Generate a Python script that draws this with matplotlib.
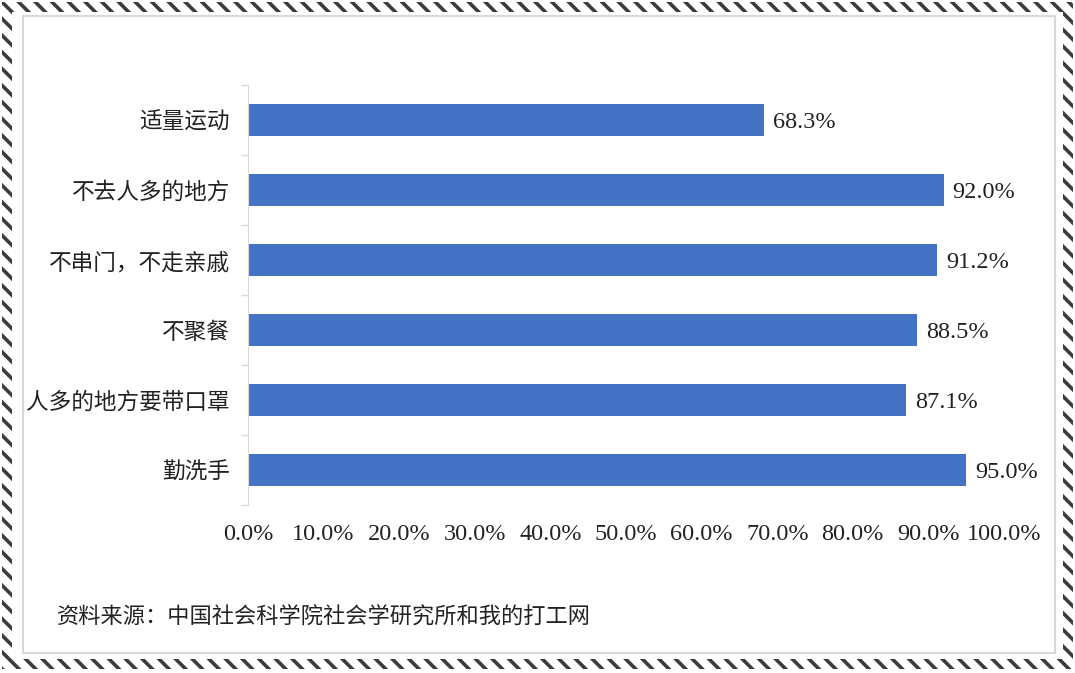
import matplotlib.pyplot as plt
from matplotlib.patches import Rectangle

# data (bottom to top as drawn)
categories = ['勤洗手', '人多的地方要带口罩', '不聚餐', '不串门，不走亲戚', '不去人多的地方', '适量运动']
values = [95.0, 87.1, 88.5, 91.2, 92.0, 68.3]
xticks = [0, 10, 20, 30, 40, 50, 60, 70, 80, 90, 100]
source = '资料来源：中国社会科学院社会学研究所和我的打工网'

plt.rcParams['hatch.linewidth'] = 2.6

W, H = 1075, 673
fig = plt.figure(figsize=(W / 100, H / 100), dpi=100)
fig.patch.set_facecolor('white')

# zebra-ish border bands
def band(x0, y0, x1, y1):
    r = Rectangle((x0 / W, 1 - y1 / H), (x1 - x0) / W, (y1 - y0) / H,
                  transform=fig.transFigure, facecolor='white',
                  edgecolor='#3c3c3c', linewidth=0, hatch='\\\\', zorder=0)
    fig.add_artist(r)

band(2, 2, 1073, 12)      # top
band(2, 659, 1073, 669)   # bottom
band(2, 2, 12, 669)       # left
band(1063, 2, 1073, 669)  # right

# inner panel outline
fig.add_artist(Rectangle((23 / W, 1 - 653 / H), (1055 - 23) / W, (653 - 16) / H,
                         transform=fig.transFigure, facecolor='white',
                         edgecolor='#d8d8d8', linewidth=1.5, zorder=1))

ax = fig.add_axes([248 / W, 1 - 505 / H, 756 / W, 420 / H])
ax.set_facecolor('none')
ax.set_zorder(2)

ypos = list(range(len(categories)))
ax.barh(ypos, values, height=0.45, color='#4472C4')

for y, v in zip(ypos, values):
    ax.text(v + 1.2, y, f'{v:.1f}%', va='center_baseline', ha='left', fontsize=17.5,
            family=['Liberation Serif'], color='#222222')

ax.set_xlim(0, 100)
ax.set_ylim(-0.5, len(categories) - 0.5)
ax.set_xticks(xticks)
ax.set_xticklabels([f'{t:.1f}%' for t in xticks], family=['Liberation Serif'],
                   fontsize=17.5, color='#222222')
ax.tick_params(axis='x', length=0, pad=14)

ax.set_yticks(ypos)
ax.set_yticklabels(categories, family=['Noto Sans CJK SC', 'DejaVu Sans'],
                   fontsize=16.3, color='#222222')
ax.tick_params(axis='y', which='major', length=0, pad=13)
ax.set_yticks([i - 0.5 for i in range(len(categories) + 1)], minor=True)
ax.tick_params(axis='y', which='minor', length=5, color='#d9d9d9', width=1)

for s in ['top', 'right', 'bottom']:
    ax.spines[s].set_visible(False)
ax.spines['left'].set_color('#d9d9d9')

fig.text(57 / W, 1 - 617 / H, source, family=['Noto Sans CJK SC', 'DejaVu Sans'],
         fontsize=16, color='#222222', va='center', ha='left')

fig.savefig('out.png', dpi=100)
